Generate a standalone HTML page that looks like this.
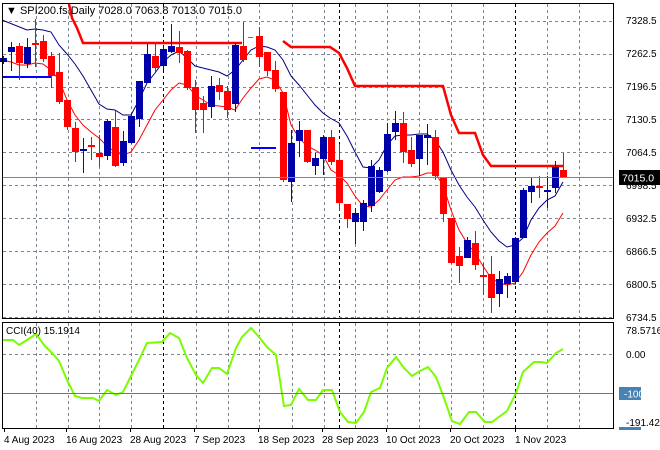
<!DOCTYPE html>
<html><head><meta charset="utf-8"><style>
html,body{margin:0;padding:0;background:#fff;}
svg{display:block;font-family:"Liberation Sans",sans-serif;font-size:10px;}
</style></head><body>
<svg id="s" width="660" height="450" viewBox="0 0 660 450" xmlns="http://www.w3.org/2000/svg" shape-rendering="crispEdges">
<rect width="660" height="450" fill="#fff"/>
<g id="grid" stroke="#7a8591" stroke-dasharray="3,3" stroke-width="1"></g>
<g id="lines" fill="none" shape-rendering="auto"></g>
<g id="cand"></g>
<rect x="2.5" y="3.5" width="611" height="315" fill="none" stroke="#000"/>
<rect x="2.5" y="322.5" width="611" height="106" fill="none" stroke="#000"/>
<line x1="3" y1="177.5" x2="613" y2="177.5" stroke="#7a8591"/>
<line x1="3" y1="393.5" x2="613" y2="393.5" stroke="#4682b4"/>
<g fill="#000" font-size="10">
<text x="626" y="24">7328.5</text>
<text x="626" y="57">7262.5</text>
<text x="626" y="90">7196.5</text>
<text x="626" y="123">7130.5</text>
<text x="626" y="156">7064.5</text>
<text x="626" y="189">6998.5</text>
<text x="626" y="222">6932.5</text>
<text x="626" y="255">6866.5</text>
<text x="626" y="288">6800.5</text>
<text x="626" y="321">6734.5</text>
<text x="626" y="334">78.5716</text>
<text x="626" y="358">0.00</text>
<text x="626" y="426">-191.4274</text>
</g>
<rect x="619" y="170" width="41" height="15" fill="#000"/>
<text x="622" y="181.5" fill="#fff" font-size="10.5">7015.0</text>
<rect x="619" y="387" width="22" height="13" fill="#4682b4"/>
<text x="624" y="397.5" fill="#fff">-100</text>
<rect x="619" y="427" width="22" height="3" fill="#4682b4"/>
<text x="6" y="14" font-size="11" fill="#000">▼ SPI200.fs,Daily  7028.0 7063.8 7013.0 7015.0</text>
<text x="6" y="334" font-size="10" fill="#000">CCI(40) 15.1914</text>
<g font-size="10" fill="#000">
<text x="4" y="443">4 Aug 2023</text>
<text x="66" y="443">16 Aug 2023</text>
<text x="130" y="443">28 Aug 2023</text>
<text x="194" y="443">7 Sep 2023</text>
<text x="258" y="443">18 Sep 2023</text>
<text x="322" y="443">28 Sep 2023</text>
<text x="386" y="443">10 Oct 2023</text>
<text x="450" y="443">20 Oct 2023</text>
<text x="515" y="443">1 Nov 2023</text>
</g>
</svg>
<script>
var NS="http://www.w3.org/2000/svg",s=document.getElementById('s');
function el(p,t,a){var e=document.createElementNS(NS,t);for(var k in a)e.setAttribute(k,a[k]);p.appendChild(e);return e;}
var g=document.getElementById('grid');
var vx=[36,68,99,131,196,228,259,292,324,355,387,419,451,483,547,579];
vx.forEach(function(x){el(g,'line',{x1:x+.5,y1:4,x2:x+.5,y2:318});el(g,'line',{x1:x+.5,y1:323,x2:x+.5,y2:428});});
[163,339,515].forEach(function(x){el(g,'line',{x1:x+.5,y1:4,x2:x+.5,y2:318,stroke:'#000'});el(g,'line',{x1:x+.5,y1:323,x2:x+.5,y2:428,stroke:'#000'});});
[20.7,53.6,86.5,119.4,152.3,185.2,218,251,284,317].forEach(function(y){y=Math.round(y)+.5;el(g,'line',{x1:3,y1:y,x2:613,y2:y});});
el(g,'line',{x1:3,y1:354.5,x2:613,y2:354.5});
[4,66,130,194,258,322,386,450,515].forEach(function(x){el(g,'line',{x1:x+.5,y1:428,x2:x+.5,y2:432,stroke:'#000','stroke-dasharray':'none'});});
var L=document.getElementById('lines');
function pl(pts,c,w){el(L,'polyline',{points:pts.map(function(p){return p.join(',')}).join(' '),stroke:c,'stroke-width':w});}
pl([[2,20],[27,30],[35,29],[43,30],[51,32],[59,45],[67,54],[75,64],[83,76],[91,90],[99,104],[107,109],[115,110],[123,115],[131,115],[139,100],[147,83],[155,73],[163,62],[171,55],[179,51],[187,58],[195,66],[203,68],[211,70],[219,72],[227,76],[235,70],[243,60],[251,50],[259,46],[267,47],[275,50],[283,60],[291,76],[299,85],[307,95],[315,105],[323,113],[330,118],[339,123],[347,136],[355,152],[363,167],[371,168],[379,160],[387,145],[395,136],[403,135],[411,135],[419,134],[427,134],[435,140],[443,152],[451,170],[459,185],[467,197],[475,207],[483,220],[491,232],[499,241],[507,247],[515,245],[523,238],[531,220],[539,208],[547,200],[555,196],[563,182]],'#000080',1);
pl([[2,60],[11,62],[19,65],[27,65],[35,63],[43,64],[51,70],[59,80],[67,100],[75,115],[83,125],[91,132],[99,138],[107,146],[115,152],[123,155],[131,152],[139,140],[147,125],[155,110],[163,100],[171,90],[179,83],[187,85],[195,95],[203,100],[211,105],[219,106],[227,107],[235,110],[243,98],[251,88],[259,79],[267,77],[275,80],[283,93],[291,125],[299,138],[307,146],[315,150],[323,155],[331,170],[339,175],[347,183],[355,196],[363,206],[371,207],[379,200],[387,190],[395,180],[403,177],[411,177],[419,176],[427,173],[435,173],[443,185],[451,210],[459,230],[467,243],[475,253],[483,266],[491,278],[499,283],[507,285],[515,283],[523,272],[531,255],[539,242],[547,233],[555,226],[563,213]],'#ff0000',1);
pl([[69,4],[72,18],[77,28],[83,43],[242,43]],'#ff0000',2.5);
pl([[283,41],[291,47],[330,47],[339,53],[347,68],[355,86],[443,86],[451,115],[459,133],[475,133],[483,155],[491,166],[563,166]],'#ff0000',2.5);
pl([[3,340],[13,340],[19,345],[27,340],[36,334],[44,345],[53,354],[59,361],[67,380],[75,396],[82,398],[93,398],[99,401],[107,390],[116,395],[123,392],[130,378],[139,360],[147,343],[162,342],[170,333],[179,338],[187,358],[196,375],[203,383],[212,368],[219,368],[227,374],[236,348],[242,337],[251,328],[259,337],[267,347],[276,355],[284,406],[291,405],[299,389],[308,400],[316,400],[323,390],[332,390],[340,412],[348,422],[356,423],[364,412],[371,392],[380,388],[387,368],[396,357],[404,368],[412,376],[420,371],[428,367],[436,377],[444,398],[452,421],[460,424],[469,412],[476,412],[485,422],[492,422],[507,411],[516,393],[523,372],[534,362],[541,362],[547,363],[556,353],[563,349]],'#7cfc00',2);
var C=document.getElementById('cand');
el(C,'rect',{x:3,y:76,width:48,height:2,fill:'#0000ff'});
el(C,'rect',{x:251,y:147,width:25,height:2,fill:'#0000ff'});
el(C,'rect',{x:248,y:37,width:5,height:1,fill:'#00c000'});
// [k, color(b/r), bodyTop, bodyBot, wickTop, wickBot]
var d=[[0,'b',58,62,56,64],[1,'b',47,52,42,71],[2,'r',46,63,43,80],[3,'b',47,64,38,68],[4,'r',43,44,19,67],[5,'r',41,59,35,62],[6,'r',56,76,52,88],[7,'r',72,102,53,104],[8,'r',100,127,100,130],[9,'r',128,152,122,162],[10,'b',149,151,138,173],[11,'r',145,147,137,160],[12,'r',153,157,135,167],[13,'b',121,156,119,160],[14,'r',127,166,111,167],[15,'b',141,163,131,166],[16,'b',116,143,113,144],[17,'b',81,119,81,127],[18,'b',54,83,44,83],[19,'r',56,68,44,72],[20,'b',49,66,45,70],[21,'b',46,52,24,53],[22,'r',47,53,31,63],[23,'r',51,88,50,90],[24,'r',87,110,80,133],[25,'r',103,110,96,133],[26,'b',86,107,76,118],[27,'r',85,92,78,100],[28,'r',91,110,86,118],[29,'b',45,104,43,112],[30,'r',46,60,22,62],[32,'r',36,57,27,67],[33,'r',52,71,52,76],[34,'r',70,89,61,92],[35,'r',92,180,92,182],[36,'b',143,182,130,202],[37,'b',130,141,121,157],[38,'r',130,162,130,163],[39,'b',158,166,153,175],[40,'b',137,159,135,175],[41,'r',137,162,130,165],[42,'r',160,203,144,211],[43,'r',204,219,204,228],[44,'b',213,222,208,244],[45,'b',203,222,200,231],[46,'b',166,206,160,212],[47,'b',170,192,167,193],[48,'b',134,171,123,172],[49,'b',123,132,111,140],[50,'r',123,152,112,163],[51,'r',150,164,137,167],[52,'b',135,159,135,176],[53,'b',135,138,124,165],[54,'r',137,176,130,180],[55,'r',178,214,177,222],[56,'r',218,263,218,264],[57,'r',256,266,247,283],[58,'b',240,258,237,258],[59,'r',243,265,231,270],[60,'r',275,277,263,295],[61,'r',274,298,256,313],[62,'b',279,294,271,307],[63,'b',276,284,273,298],[64,'b',238,282,237,284],[65,'b',190,238,188,238],[66,'b',186,192,178,203],[67,'r',186,188,176,198],[68,'b',190,192,176,208],[69,'b',167,188,161,193],[70,'r',170,178,153,178]];
d.forEach(function(c){var x=Math.round(3.3+8*c[0]);var col=c[1]=='b'?'#0000a8':'#ff0000';var wc=c[1]=='b'?'#0000ff':'#ff0000';
el(C,'rect',{x:x,y:c[4],width:1,height:c[5]-c[4],fill:wc});
var h=Math.max(2,c[3]-c[2]);el(C,'rect',{x:x-3,y:c[2],width:7,height:h,fill:col});});
</script>
</body></html>
